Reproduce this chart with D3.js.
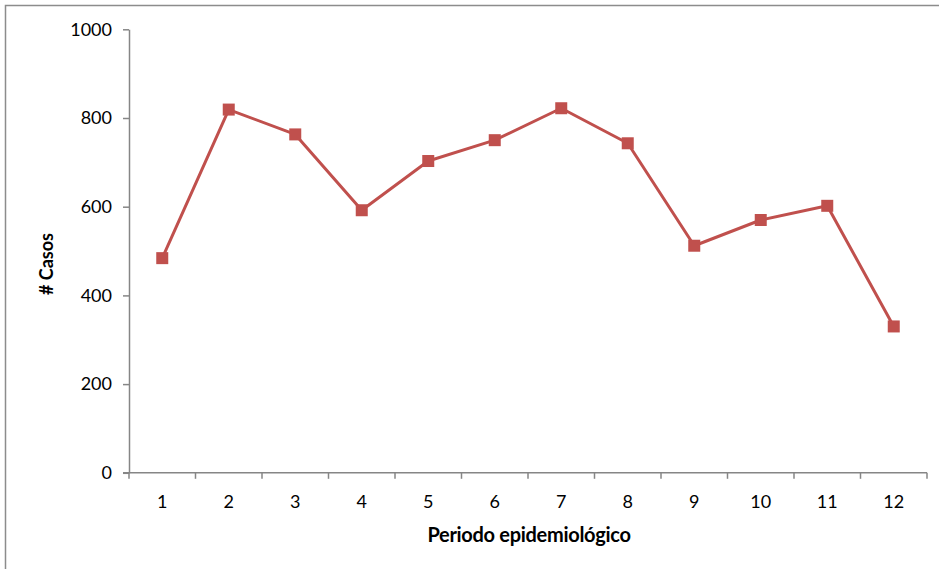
<!DOCTYPE html>
<html>
<head>
<meta charset="utf-8">
<script src="https://cdn.jsdelivr.net/npm/d3@7"></script>
<style>
  html, body { margin: 0; padding: 0; background: #fff; }
  svg { display: block; font-family: Lato, "Open Sans", sans-serif; }
</style>
</head>
<body>
<svg id="chart" width="939" height="569"></svg>
<script>
// Casos por periodo epidemiológico
const periods = ["1","2","3","4","5","6","7","8","9","10","11","12"];
const cases = [484, 819, 763, 592, 703, 750, 822, 743, 512, 570, 602, 330];
const yTicks = [0, 200, 400, 600, 800, 1000];
const xTitle = "Periodo epidemiológico";
const yTitle = "# Casos";

const svg = d3.select("#chart");
const W = 939, H = 569;
const plot = { left: 129, right: 927, top: 29.3, bottom: 472.8 };
const fontFamily = "Lato, 'Open Sans', sans-serif";

// outer frame
svg.append("rect")
  .attr("x", 5.5).attr("y", 5.5)
  .attr("width", W + 10).attr("height", H + 10)
  .attr("fill", "none").attr("stroke", "#8c8c8c").attr("stroke-width", 1.5);

const x = d3.scaleBand().domain(periods).range([plot.left, plot.right]).padding(0);
const y = d3.scaleLinear().domain([0, 1000]).range([plot.bottom, plot.top]);

const axisColor = "#868686";

// y axis
const gy = svg.append("g")
  .attr("transform", `translate(${plot.left},0)`)
  .call(d3.axisLeft(y).tickValues(yTicks).tickFormat(d3.format("d"))
    .tickSize(6).tickSizeOuter(0).tickPadding(11));
gy.select(".domain").attr("stroke", axisColor).attr("stroke-width", 1.5);
gy.selectAll(".tick line").attr("stroke", axisColor).attr("stroke-width", 1.5);
gy.selectAll(".tick text").attr("font-size", 18).attr("fill", "#000")
  .attr("font-family", fontFamily);

// x axis with ticks at category boundaries
const gx = svg.append("g")
  .attr("transform", `translate(0,${plot.bottom})`);
gx.append("line")
  .attr("x1", plot.left - 6).attr("x2", plot.right)
  .attr("stroke", axisColor).attr("stroke-width", 1.5);
const bounds = periods.map(p => x(p)).concat([x(periods[periods.length - 1]) + x.bandwidth()]);
gx.selectAll("line.tk").data(bounds).join("line")
  .attr("class", "tk")
  .attr("x1", d => d).attr("x2", d => d)
  .attr("y1", 0).attr("y2", 6)
  .attr("stroke", axisColor).attr("stroke-width", 1.5);
gx.selectAll("text").data(periods).join("text")
  .attr("x", d => x(d) + x.bandwidth() / 2)
  .attr("y", 35)
  .attr("text-anchor", "middle")
  .attr("font-size", 18)
  .attr("fill", "#000")
  .text(d => d);

// axis titles
svg.append("text")
  .attr("x", 529).attr("y", 542)
  .attr("text-anchor", "middle")
  .attr("font-size", 20).attr("font-weight", "bold")
  .attr("letter-spacing", -0.3)
  .text(xTitle);
svg.append("text")
  .attr("transform", "translate(53,264) rotate(-90)")
  .attr("text-anchor", "middle")
  .attr("font-size", 18).attr("font-weight", "bold")
  .text(yTitle);

// series
const red = "#c0504d";
const line = d3.line()
  .x((d, i) => x(periods[i]) + x.bandwidth() / 2)
  .y(d => y(d));
svg.append("path")
  .datum(cases)
  .attr("d", line)
  .attr("fill", "none")
  .attr("stroke", red)
  .attr("stroke-width", 3)
  .attr("stroke-linejoin", "round");

const ms = 12;
svg.selectAll("rect.pt").data(cases).join("rect")
  .attr("class", "pt")
  .attr("x", (d, i) => x(periods[i]) + x.bandwidth() / 2 - ms / 2)
  .attr("y", d => y(d) - ms / 2)
  .attr("width", ms).attr("height", ms)
  .attr("fill", red);
</script>
</body>
</html>
